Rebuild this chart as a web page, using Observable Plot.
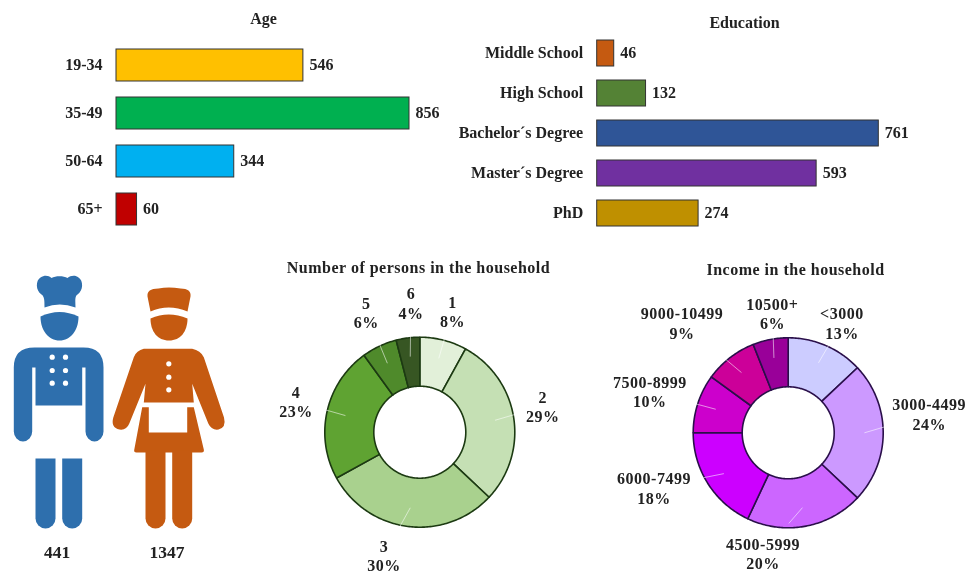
<!DOCTYPE html>
<html>
<head>
<meta charset="utf-8">
<script src="https://cdn.jsdelivr.net/npm/d3@7"></script>
<script src="https://cdn.jsdelivr.net/npm/@observablehq/plot@0.6"></script>
<style>
  html, body { margin: 0; padding: 0; background: #fff; }
  #page { position: relative; width: 969px; height: 573px; overflow: hidden; filter: blur(0.45px); }
  #page svg { position: absolute; left: 0; top: 0; }
</style>
</head>
<body>
<div id="page"></div>
<script>
// ---------- data ----------
const ageGroups = ["19-34", "35-49", "50-64", "65+"];
const ageCounts = [546, 856, 344, 60];
const ageColors = ["#ffc000", "#00b050", "#00b0f0", "#c00000"];

const eduLevels = ["Middle School", "High School", "Bachelor´s Degree", "Master´s Degree", "PhD"];
const eduCounts = [46, 132, 761, 593, 274];
const eduColors = ["#c55a11", "#548235", "#2f5597", "#7030a0", "#bf9000"];

const genderKeys = ["chef", "waitress"];
const genderCounts = [441, 1347];

const householdSizes = ["1", "2", "3", "4", "5", "6"];
const householdShares = [8, 29, 30, 23, 6, 4];
const householdColors = ["#e2f0d9", "#c5e0b4", "#a9d18e", "#5fa332", "#4f8a2b", "#375623"];
const householdLabelOffsets = [[9, -29], [29, -11], [-24, 29], [-31, -10], [-13, -34], [3, -35]];

const incomeBands = ["<3000", "3000-4499", "4500-5999", "6000-7499", "7500-8999", "9000-10499", "10500+"];
const incomeShares = [13, 24, 20, 18, 10, 9, 6];
const incomeColors = ["#ccccff", "#cc99ff", "#cc66ff", "#cc00ff", "#cc00cc", "#cc0099", "#990099"];
const incomeLabelOffsets = [[16, -23], [46, -19], [-43, 27], [-54, 4], [-48, -12], [-48, -35], [2, -26]];

// ---------- shared ----------
const W = 969, H = 573;
const page = document.getElementById("page");
const baseStyle = {
  background: "transparent",
  fontFamily: "'Liberation Serif', serif",
  fontWeight: "bold",
  fontSize: "16px",
  color: "#222",
  overflow: "visible"
};
const add = (opts, style) => page.appendChild(Plot.plot({width: W, height: H, margin: 0, style: {...baseStyle, ...style}, ...opts}));

// ---------- bar panels ----------
function barPanel({cats, vals, colors, title, xRange, yRange, titleX, titleY, tickPadding, domainMax, rule}) {
  const rows = cats.map((c, i) => ({c, v: vals[i]}));
  add({
    marginLeft: xRange[0],
    x: {domain: [0, domainMax], range: xRange, axis: null},
    y: {domain: cats, range: yRange, padding: 0.34, axis: null},
    color: {domain: cats, range: colors},
    marks: [
      rule ? Plot.ruleX([0], {stroke: "#e4e4e4", y1: cats[0], y2: cats[cats.length - 1], insetTop: -14, insetBottom: -14}) : null,
      Plot.barX(rows, {x: "v", y: "c", fill: "c", stroke: "#333", strokeWidth: 1}),
      Plot.axisY({anchor: "left", tickSize: 0, tickPadding, label: null, dy: -1}),
      Plot.text(rows, {x: "v", y: "c", text: d => String(d.v), dx: 6, dy: -1, textAnchor: "start"}),
      Plot.text([title], {frameAnchor: "top-left", dx: titleX - xRange[0], dy: titleY, textAnchor: "middle", lineAnchor: "middle"})
    ]
  });
}
barPanel({cats: ageGroups, vals: ageCounts, colors: ageColors, title: "Age",
  xRange: [116, 409], yRange: [31.5, 242.4], domainMax: 856, titleX: 263, titleY: 18, tickPadding: 14, rule: true});
barPanel({cats: eduLevels, vals: eduCounts, colors: eduColors, title: "Education",
  xRange: [596.7, 878.3], yRange: [25.3, 240.5], domainMax: 761, titleX: 744, titleY: 22, tickPadding: 14, rule: false});

// ---------- donuts ----------
function donut({cats, vals, colors, offsets, cx, cy, title, titleX, titleY, stroke}) {
  const R = 95, inner = 46 / 95, total = d3.sum(vals);
  const cum = d3.cumsum(vals);
  const polar = (share, r) => {
    const t = 2 * Math.PI * share / total;
    return [r * Math.sin(t), r * Math.cos(t)];
  };
  const pts = [];
  cats.forEach((c, i) => {
    const a = cum[i] - vals[i], b = cum[i], n = Math.max(2, Math.ceil(vals[i] * 4));
    const outer = d3.range(n + 1).map(k => a + (b - a) * k / n);
    outer.forEach(s => { const [x, y] = polar(s, 1); pts.push({c, x, y}); });
    outer.slice().reverse().forEach(s => { const [x, y] = polar(s, inner); pts.push({c, x, y}); });
  });
  const mids = cats.map((c, i) => cum[i] - vals[i] / 2);
  const labelMarks = cats.map((c, i) => {
    const [x, y] = polar(mids[i], 1);
    return Plot.text([{x, y}], {x: "x", y: "y", text: () => `${c}\n${vals[i]}%`, dx: offsets[i][0], dy: offsets[i][1],
      textAnchor: "middle", lineAnchor: "middle", lineHeight: 1.22});
  });
  const leaders = cats.map((c, i) => {
    const rm = (1 + inner) / 2 + 0.06;
    const [x1, y1] = polar(mids[i], rm);
    const [ax, ay] = polar(mids[i], 1);
    const lx = ax + offsets[i][0] / R, ly = ay - offsets[i][1] / R;
    const len = Math.hypot(lx - x1, ly - y1), reach = 0.22;
    return {x1, y1, x2: x1 + (lx - x1) / len * reach, y2: y1 + (ly - y1) / len * reach};
  });
  add({
    x: {domain: [-1, 1], range: [cx - R, cx + R], axis: null},
    y: {domain: [-1, 1], range: [cy + R, cy - R], axis: null},
    color: {domain: cats, range: colors},
    marks: [
      Plot.line(pts, {x: "x", y: "y", z: "c", fill: "c", stroke, strokeWidth: 1.6, curve: "linear-closed", strokeLinejoin: "round"}),
      Plot.link(leaders, {x1: "x1", y1: "y1", x2: "x2", y2: "y2", stroke: "#fff", strokeOpacity: 0.55, strokeWidth: 1}),
      ...labelMarks,
      Plot.text([title], {frameAnchor: "top-left", dx: titleX, dy: titleY, textAnchor: "middle", lineAnchor: "middle"})
    ]
  }, {letterSpacing: "0.5px"});
}
donut({cats: householdSizes, vals: householdShares, colors: householdColors, offsets: householdLabelOffsets,
  cx: 419.3, cy: 431.7, title: "Number of persons in the household", titleX: 418, titleY: 267, stroke: "#1c3a12"});
donut({cats: incomeBands, vals: incomeShares, colors: incomeColors, offsets: incomeLabelOffsets,
  cx: 787.7, cy: 432.3, title: "Income in the household", titleX: 795, titleY: 269, stroke: "#2a0f4a"});

// ---------- pictograms ----------
const svgUri = (viewBox, color, body) => "data:image/svg+xml," + encodeURIComponent(
  `<svg xmlns="http://www.w3.org/2000/svg" viewBox="${viewBox}" width="120" height="260"><g fill="${color}">${body}</g></svg>`);
const dots = (pts, r) => pts.map(([x, y]) => `<circle cx="${x}" cy="${y}" r="${r}" fill="#fff"/>`).join("");

const chefSrc = svgUri("-2 270 120 260", "#2e6fad",
  `<path d="M44 307C44 300 44 296 41 294C35 290 35 280 40 277C44 274.500 48 275 51 277.500C55 275 63 275 67 277.500C70 275 75 274.500 78 277C83 280 83 290 77 294C74 296 75 300 75 307Q59 301 44 307Z"/>
   <path d="M40 316Q59 307 78 316C78 330 70 340 59 340C48 340 40 330 40 316Z"/>
   <path d="M13.3 431V367Q13.3 347 34 347H83Q103 347 103 367V431A9 10 0 0 1 85 431V367H81.7V405H35V367H31.7V431A9.2 10 0 0 1 13.3 431Z"/>
   <path d="M35 458H55V518A10 10 0 0 1 35 518Z"/>
   <path d="M61.7 458H81.7V518A10 10 0 0 1 61.7 518Z"/>` +
  dots([[51.7, 356.7], [65, 356.7], [51.7, 370], [65, 370], [51.7, 382.7], [65, 382.7]], 2.6));

const waitressSrc = svgUri("108 270 120 260", "#c55a11",
  `<path d="M150 311L147 296Q146 288 158 288Q168 286 180 288Q191 288 190 296L187 311Q168 303 150 311Z"/>
   <path d="M150 318Q168 310 187 318C187 331 180 340 168.5 340C157 340 150 331 150 318Z"/>
   <path d="M143.3 348.3Q136 350 133.3 356.7L112.8 417Q110 427 119 429Q126 430 128.8 423L145 383.3L143.3 402H193.3L191.7 383.3L207.8 423Q211 430 218 429Q226 427 223.5 417L203.3 356.7Q200 350 191.7 348.3Z"/>
   <path d="M141.7 406.7H148.3V432H186.7V406.7H193.3L203.3 449Q204 452 201 452H136Q133 452 133.8 449Z"/>
   <path d="M145 450H165V518A10 10 0 0 1 145 518Z"/>
   <path d="M171.7 450H191.7V518A10 10 0 0 1 171.7 518Z"/>` +
  dots([[168.3, 363.3], [168.3, 376.7], [168.3, 389.3]], 2.6));

const people = genderKeys.map((k, i) => ({k, n: genderCounts[i], src: [chefSrc, waitressSrc][i], row: "figure"}));
add({
  x: {domain: genderKeys, type: "point", range: [58, 168], padding: 0, axis: null},
  y: {domain: ["figure", "count"], type: "point", range: [400, 552], padding: 0, axis: null},
  marks: [
    Plot.image(people, {x: "k", y: "row", src: d => d.src, width: 120, height: 260}),
    Plot.text(people, {x: "k", y: () => "count", text: d => String(d.n), fontSize: 17.5, dx: -1.5})
  ]
});
</script>
</body>
</html>
